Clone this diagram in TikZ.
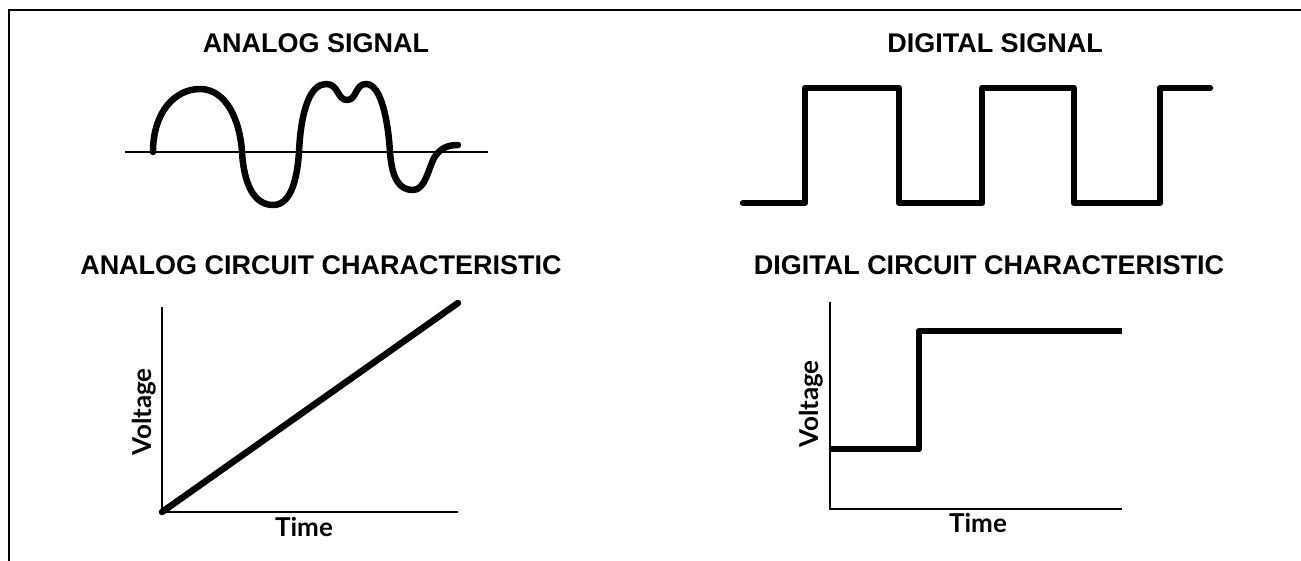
\documentclass[tikz,border=0pt]{standalone}
\usepackage{fontspec}
\setmainfont{Liberation Sans}
\newfontfamily\axisfont{Lato}
\begin{document}
\begin{tikzpicture}[x=1pt,y=-1pt,
  title/.style={font=\fontsize{27}{32}\selectfont\bfseries, inner sep=0pt},
  axislabel/.style={font=\axisfont\fontsize{26}{30}\selectfont\bfseries, inner sep=0pt},
  baseline rule/.style={line width=2.6pt},
  trace/.style={line width=6.5pt, line join=round, line cap=round},
  frameline/.style={line width=2.5pt}]
\useasboundingbox (0,0) rectangle (1301,561);

% open frame: top and left edges only
\coordinate (frameTR) at (1301,10);
\coordinate (frameTL) at (9,10);
\coordinate (frameBL) at (9,561);
\draw[frameline] (frameTR) -- (frameTL) -- (frameBL);

% titles
\node[title] (tAnalog)  at (316,43)  {ANALOG SIGNAL};
\node[title] (tDigital) at (995,43)  {DIGITAL SIGNAL};
\node[title] (tAnaChar) at (321,265) {ANALOG CIRCUIT CHARACTERISTIC};
\node[title] (tDigChar) at (989,265) {DIGITAL CIRCUIT CHARACTERISTIC};

% analog signal: zero line and waveform
\coordinate (zeroL) at (125,152);
\coordinate (zeroR) at (488,152);
\draw[baseline rule] (zeroL) -- (zeroR);
\draw[trace]
  (153,152) .. controls (153,112) and (175,89) .. (200,89)
  .. controls (226,89) and (240,120) .. (242,152)
  .. controls (244,186) and (255,205) .. (273,205)
  .. controls (290,205) and (297,182) .. (299,152)
  .. controls (301,108) and (311,84) .. (326,84)
  .. controls (339,84) and (337,100) .. (347,100)
  .. controls (357,100) and (355,84) .. (366,84)
  .. controls (381,84) and (388,120) .. (390,152)
  .. controls (392,180) and (400,190) .. (413,190)
  .. controls (425,190) and (428,170) .. (434,158)
  .. controls (440,148) and (448,145) .. (458,145);

% digital signal: square wave
\draw[trace]
  (743,203) -- (805,203) -- (805,88) -- (899,88) -- (899,203)
  -- (982,203) -- (982,88) -- (1074,88) -- (1074,203)
  -- (1160,203) -- (1160,88) -- (1210,88);

% analog circuit characteristic
\coordinate (aOrigin) at (162,512);
\coordinate (aTop) at (162,307);
\coordinate (aRight) at (458,512);
\coordinate (aEnd) at (458,303);
\draw[baseline rule] (aTop) -- (aOrigin) -- (aRight);
\draw[trace] (aOrigin) -- (aEnd);
\node[axislabel, rotate=90] (aVolt) at (144,412) {Voltage};
\node[axislabel] (aTime) at (304,527) {Time};

% digital circuit characteristic
\coordinate (dOrigin) at (830,509);
\coordinate (dTop) at (830,302);
\coordinate (dRight) at (1122,509);
\coordinate (dLow) at (830,449);
\coordinate (dStepLow) at (919,449);
\coordinate (dStepHigh) at (919,331);
\coordinate (dHigh) at (1122,331);
\draw[baseline rule] (dTop) -- (dOrigin) -- (dRight);
\draw[trace, line cap=butt] (dLow) -- (dStepLow) -- (dStepHigh) -- (dHigh);
\node[axislabel, rotate=90] (dVolt) at (811,404) {Voltage};
\node[axislabel] (dTime) at (978,523) {Time};
\end{tikzpicture}
\end{document}
